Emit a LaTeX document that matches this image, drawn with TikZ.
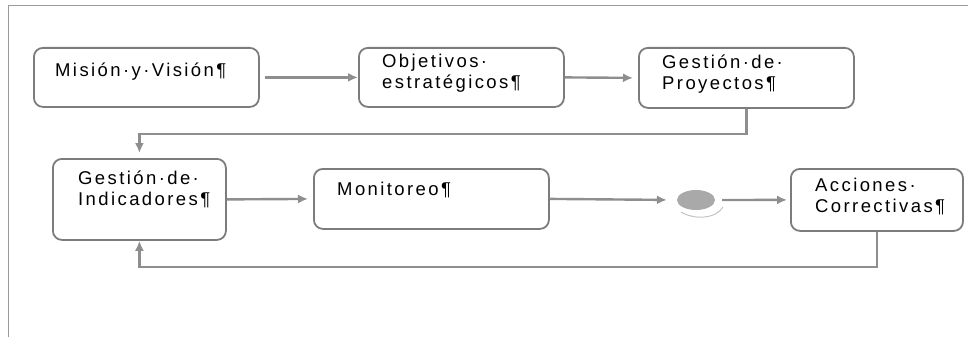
\documentclass[tikz,border=0pt]{standalone}
\usepackage{fontspec}
\setmainfont{Liberation Sans}
\newfontfamily\spacedsans[LetterSpace=13]{Liberation Sans}
\usetikzlibrary{arrows.meta,shapes.geometric}

\definecolor{linegray}{HTML}{8E8E8E}
\definecolor{boxgray}{HTML}{7C7C7C}
\definecolor{framegray}{HTML}{9A9A9A}
\definecolor{dotfill}{HTML}{A9A9A9}
\definecolor{shadowgray}{HTML}{C4C4C4}

\begin{document}
\begin{tikzpicture}[x=1pt,y=-1pt,
  stepbox/.style={draw=boxgray, line width=1.8pt, rounded corners=9pt,
    inner sep=0pt, anchor=north west},
  boxtext/.style={font=\spacedsans\fontsize{18.5}{20.5}\selectfont,
    align=left, anchor=base west, inner sep=0pt},
  flow/.style={draw=linegray, line width=2.4pt,
    -{Latex[length=10pt,width=9pt,fill=linegray]}},
  gap/.style={shorten <=5pt}]
\useasboundingbox (0,0) rectangle (968,337);

% page frame (top and left edges)
\draw[framegray, line width=1pt] (968,6) -- (8,6) -- (8,337);

% first row
\node[stepbox, minimum width=225pt, minimum height=59pt] (mv) at (33,47) {};
\node[stepbox, minimum width=205pt, minimum height=59pt] (obj) at (358,47) {};
\node[stepbox, minimum width=215pt, minimum height=60pt] (proy) at (638,47) {};

% multi-line labels are placed by the baseline of their last line
\node[boxtext] (mvt) at (55,76) {Misión·y·Visión¶};
\node[boxtext] (objt) at (382,88) {Objetivos·\\estratégicos¶};
\node[boxtext] (proyt) at (662,89) {Gestión·de·\\Proyectos¶};

% second row
\node[stepbox, minimum width=173pt, minimum height=81pt] (ind) at (52,158) {};
\node[stepbox, minimum width=235pt, minimum height=60pt] (mon) at (313,168) {};
\node[ellipse, fill=dotfill, minimum width=38pt, minimum height=20pt,
  inner sep=0pt] (dot) at (696,200) {};
\node[stepbox, minimum width=172pt, minimum height=62pt] (acc) at (790,168) {};

\node[boxtext] (indt) at (78,205) {Gestión·de·\\Indicadores¶};
\node[boxtext] (mont) at (337,195) {Monitoreo¶};
\node[boxtext] (acct) at (815,212) {Acciones·\\Correctivas¶};

% soft shadow under the decision dot
\draw[shadowgray, line width=1pt]
  ([shift={(-15,12)}]dot.center) .. controls ([shift={(-2,20)}]dot.center)
  and ([shift={(20,19)}]dot.center) .. ([shift={(27,7)}]dot.center);

% connectors
\draw[flow, gap] (mv.east) -- (obj.west);
\draw[flow, shorten >=5pt] (obj.east) -- (proy.west);
\draw[flow, shorten >=5pt] (proy.south) -- ++(0,25) -| (ind.north);
\draw[flow, shorten >=5pt] (ind.east) -- (mon.west);
\draw[flow, shorten >=10pt] (mon.east) -- (dot.west);
\draw[flow, shorten <=7pt, shorten >=3pt] (dot.east) -- (acc.west);
\draw[flow] (acc.south) -- ++(0,35) -| (ind.south);
\end{tikzpicture}
\end{document}
